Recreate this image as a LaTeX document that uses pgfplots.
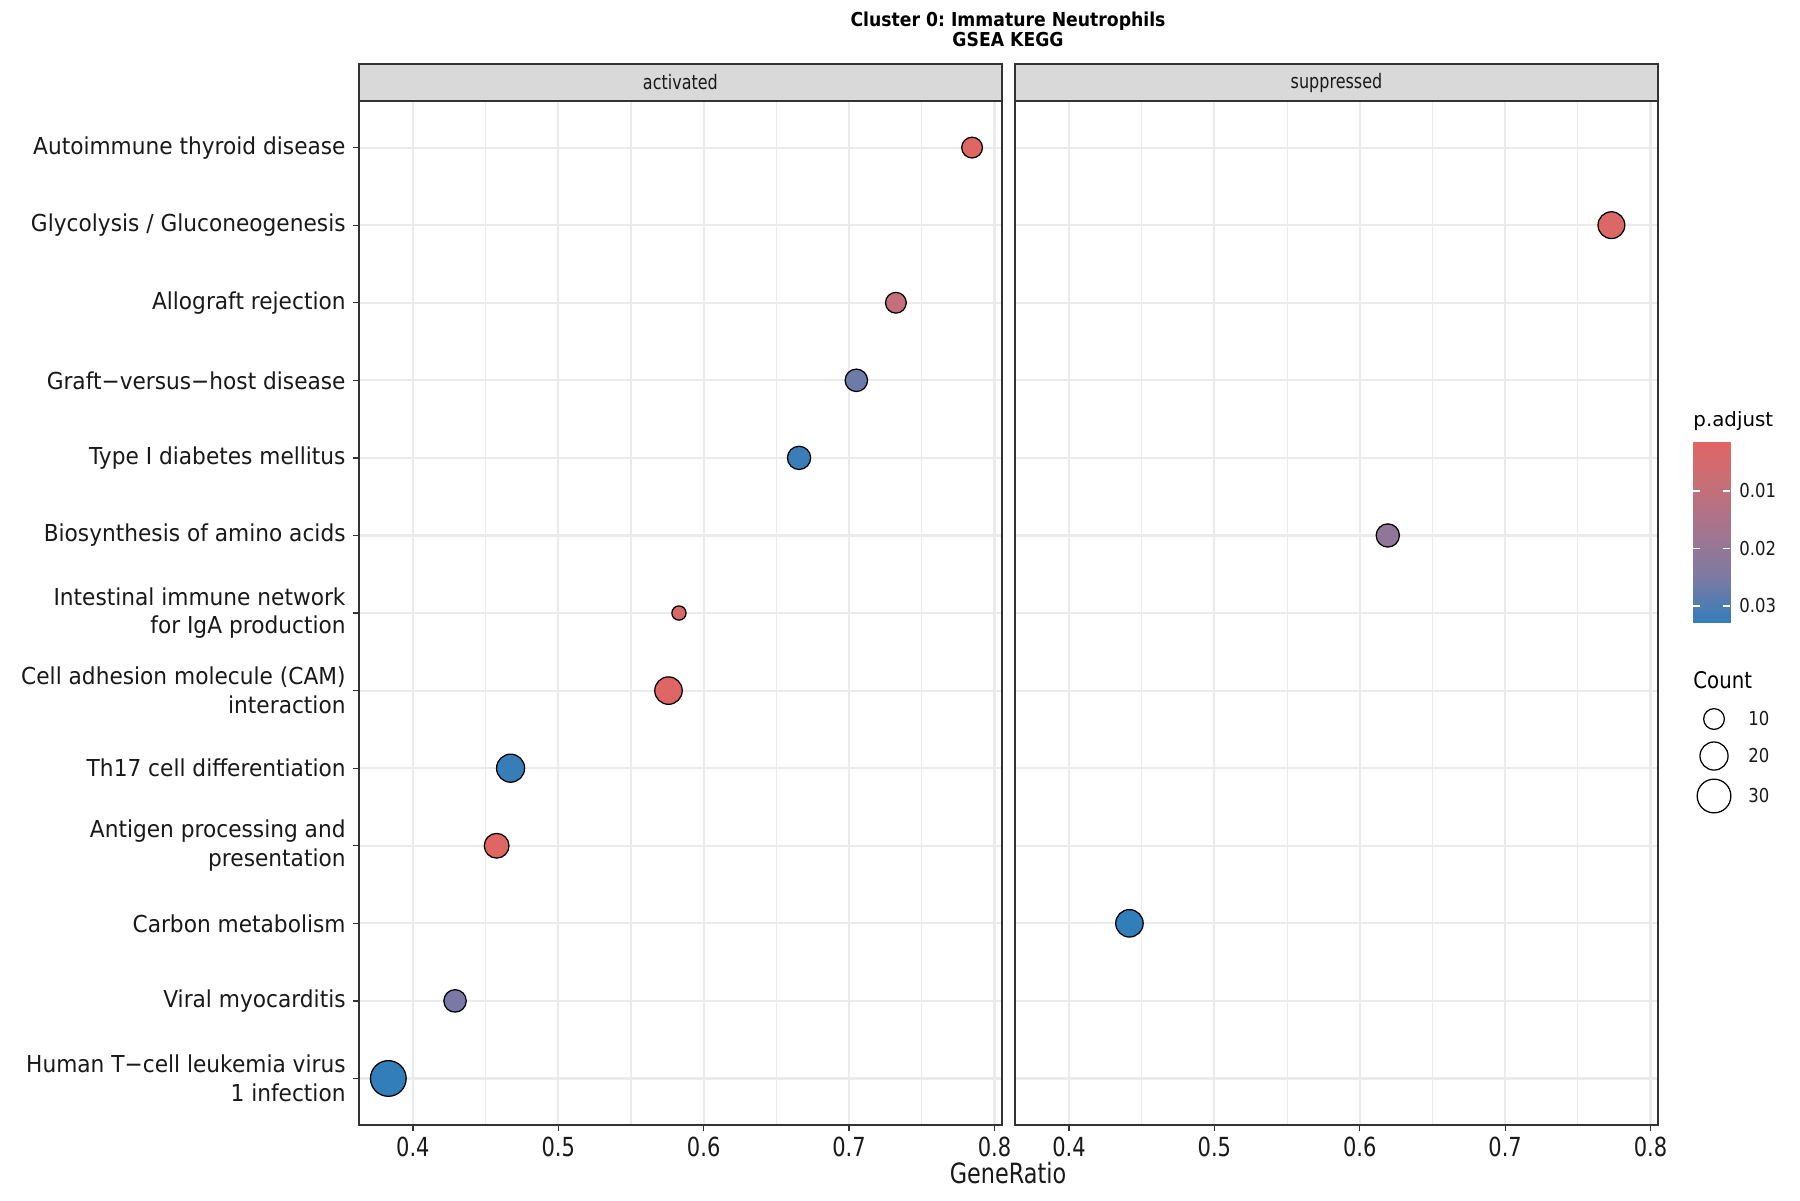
\documentclass[border=0pt]{standalone}
\usepackage{fontspec}
\setmainfont{DejaVu Sans}
\newfontfamily\narrowfont[FakeStretch=0.8]{DejaVu Sans}
\newfontfamily\labelfont[FakeStretch=0.93]{DejaVu Sans}
\newfontfamily\legendfont[FakeStretch=0.86]{DejaVu Sans}
\newfontfamily\titlefont[FakeStretch=0.9]{DejaVu Sans}
\usepackage{pgfplots}
\usepackage{pgfplotstable}
\pgfplotsset{compat=1.18}
\frenchspacing

\definecolor{grey20}{gray}{0.2}
\definecolor{grey85}{gray}{0.85}
\definecolor{grey92}{gray}{0.92}
\definecolor{textdark}{gray}{0.1}

% red (small p.adjust) -> blue (large p.adjust), Lab-like interpolation
\pgfplotsset{
  colormap={padj}{rgb255=(224,102,99) rgb255=(196,111,121) rgb255=(163,117,143) rgb255=(122,122,164) rgb255=(50,126,186)},
}

% category index (1 = top row), GeneRatio, Count, p.adjust
\pgfplotstableread{
cat ratio count padj
1  0.7846 10 0.0020
3  0.7322 10 0.0093
4  0.7050 12 0.0267
5  0.6656 13 0.0320
7  0.5830  4 0.0040
8  0.5758 19 0.0018
9  0.4672 20 0.0325
10 0.4576 15 0.0015
12 0.4290 12 0.0254
13 0.3831 34 0.0330
}\activated

\pgfplotstableread{
cat ratio count padj
2  0.7731 18 0.0030
6  0.6193 13 0.0210
11 0.4416 19 0.0330
}\suppressed

% size legend: position (px) and Count
\pgfplotstableread{
x y count
1714 719 10
1714 756 20
1714 796 30
}\sizekey

\pgfplotsset{
  panel/.style={
    scale only axis, width=308.6pt, height=491.5pt,
    xmin=0.3629, xmax=0.8051, ymin=0.4, ymax=13.6, y dir=reverse,
    xtick={0.4,0.5,0.6,0.7,0.8}, xticklabels={0.4,0.5,0.6,0.7,0.8},
    minor xtick={0.45,0.55,0.65,0.75},
    ytick={1,...,13},
    xmajorgrids, xminorgrids, ymajorgrids,
    major grid style={grey92, line width=1pt},
    minor grid style={grey92, line width=0.5pt},
    axis line style={grey20, line width=0.6pt},
    tick style={grey20, line width=0.6pt},
    tick align=outside, major tick length=2.9pt, minor tick length=0pt,
    xtick pos=bottom, ytick pos=left,
    xticklabel style={font=\narrowfont\fontsize{12.6}{12.6}\selectfont, text=textdark, yshift=0.6pt},
    colormap name=padj, point meta min=0.0015, point meta max=0.033,
  },
  dots/.style={
    scatter, only marks, mark=*,
    point meta=\thisrow{padj},
    scatter/use mapped color={draw=black, fill=mapped color},
    mark options={line width=0.6pt},
    visualization depends on={\thisrow{count} \as \cnt},
    scatter/@pre marker code/.append style={/tikz/mark size={0.48*(11+2.8*(sqrt(\cnt)-3.1623))-0.3}},
  },
}

\begin{document}
\begin{tikzpicture}
\useasboundingbox (0,0) rectangle (864pt,576pt);

% ---- activated panel ----
\begin{axis}[panel, name=left, at={(172.3pt,36pt)}, anchor=south west,
  yticklabel style={font=\labelfont\fontsize{11.2}{13.8}\selectfont, align=right, text=textdark},
  yticklabels={
    {Autoimmune thyroid disease},
    {Glycolysis / Gluconeogenesis},
    {Allograft rejection},
    {Graft−versus−host disease},
    {Type I diabetes mellitus},
    {Biosynthesis of amino acids},
    {Intestinal immune network\\for IgA production},
    {Cell adhesion molecule (CAM)\\interaction},
    {Th17 cell differentiation},
    {Antigen processing and\\presentation},
    {Carbon metabolism},
    {Viral myocarditis},
    {Human T−cell leukemia virus\\1 infection}},
]
\addplot[dots] table[x=ratio, y=cat] {\activated};
\end{axis}
\draw[grey20, line width=0.6pt, fill=grey85] (left.north west) rectangle ([yshift=17.8pt]left.north east);
\node[font=\narrowfont\fontsize{9.6}{9.6}\selectfont, text=textdark] at ([yshift=8.9pt]left.north) {activated};

% ---- suppressed panel ----
\begin{axis}[panel, name=right, at={(487.2pt,36pt)}, anchor=south west,
  yticklabels={}, y tick style={draw=none},
]
\addplot[dots] table[x=ratio, y=cat] {\suppressed};
\end{axis}
\draw[grey20, line width=0.6pt, fill=grey85] (right.north west) rectangle ([yshift=17.8pt]right.north east);
\node[font=\narrowfont\fontsize{9.6}{9.6}\selectfont, text=textdark] at ([yshift=8.9pt]right.north) {suppressed};

% ---- colour bar ----
\begin{axis}[at={(812.6pt,276.96pt)}, anchor=south west, scale only axis,
  width=17.8pt, height=86.9pt,
  xmin=0, xmax=1, ymin=0.00148, ymax=0.03296, y dir=reverse,
  axis line style={draw=none}, xtick=\empty,
  ytick={0.01,0.02,0.03}, yticklabels={0.01,0.02,0.03}, scaled y ticks=false,
  ytick pos=both, yticklabel pos=right, tick align=inside,
  major tick length=3.4pt, tick style={white, line width=0.6pt},
  yticklabel style={font=\legendfont\fontsize{9.2}{9.2}\selectfont, text=textdark, xshift=1pt},
  axis on top, colormap name=padj, point meta min=0.0015, point meta max=0.033,
]
\addplot[surf, shader=interp, mesh/cols=2, point meta=y] table[row sep=\\] {
x y\\ 0 0.00148\\ 1 0.00148\\ 0 0.0095\\ 1 0.0095\\ 0 0.0175\\ 1 0.0175\\
0 0.0255\\ 1 0.0255\\ 0 0.03296\\ 1 0.03296\\};
\end{axis}

% ---- titles, axis title and size key (pixel grid, y downwards) ----
\begin{axis}[at={(0,0)}, anchor=south west, scale only axis, width=864pt, height=576pt,
  xmin=0, xmax=1800, ymin=0, ymax=1200, y dir=reverse, hide axis, clip=false]
\addplot[only marks, mark=*, mark options={draw=black, fill=white, line width=0.6pt},
  visualization depends on={\thisrow{count} \as \cnt},
  scatter, scatter/use mapped color={draw=black, fill=white},
  scatter/@pre marker code/.append style={/tikz/mark size={0.48*(11+2.8*(sqrt(\cnt)-3.1623))-0.3}},
] table[x=x, y=y] {\sizekey};
\node[align=center, font=\titlefont\bfseries\fontsize{9.2}{9.6}\selectfont] at (axis cs:1008,29.5) {Cluster 0: Immature Neutrophils\\GSEA KEGG};
\node[font=\narrowfont\fontsize{13.4}{13.4}\selectfont, text=textdark] at (axis cs:1008,1173) {GeneRatio};
\node[anchor=west, inner sep=0pt, font=\fontsize{9.5}{9.5}\selectfont] at (axis cs:1693,421) {p.adjust};
\node[anchor=west, inner sep=0pt, font=\legendfont\fontsize{11}{11}\selectfont] at (axis cs:1693,680) {Count};
\node[anchor=west, inner sep=0pt, font=\legendfont\fontsize{9.2}{9.2}\selectfont, text=textdark] at (axis cs:1748,719) {10};
\node[anchor=west, inner sep=0pt, font=\legendfont\fontsize{9.2}{9.2}\selectfont, text=textdark] at (axis cs:1748,756) {20};
\node[anchor=west, inner sep=0pt, font=\legendfont\fontsize{9.2}{9.2}\selectfont, text=textdark] at (axis cs:1748,796) {30};
\end{axis}
\end{tikzpicture}
\end{document}
